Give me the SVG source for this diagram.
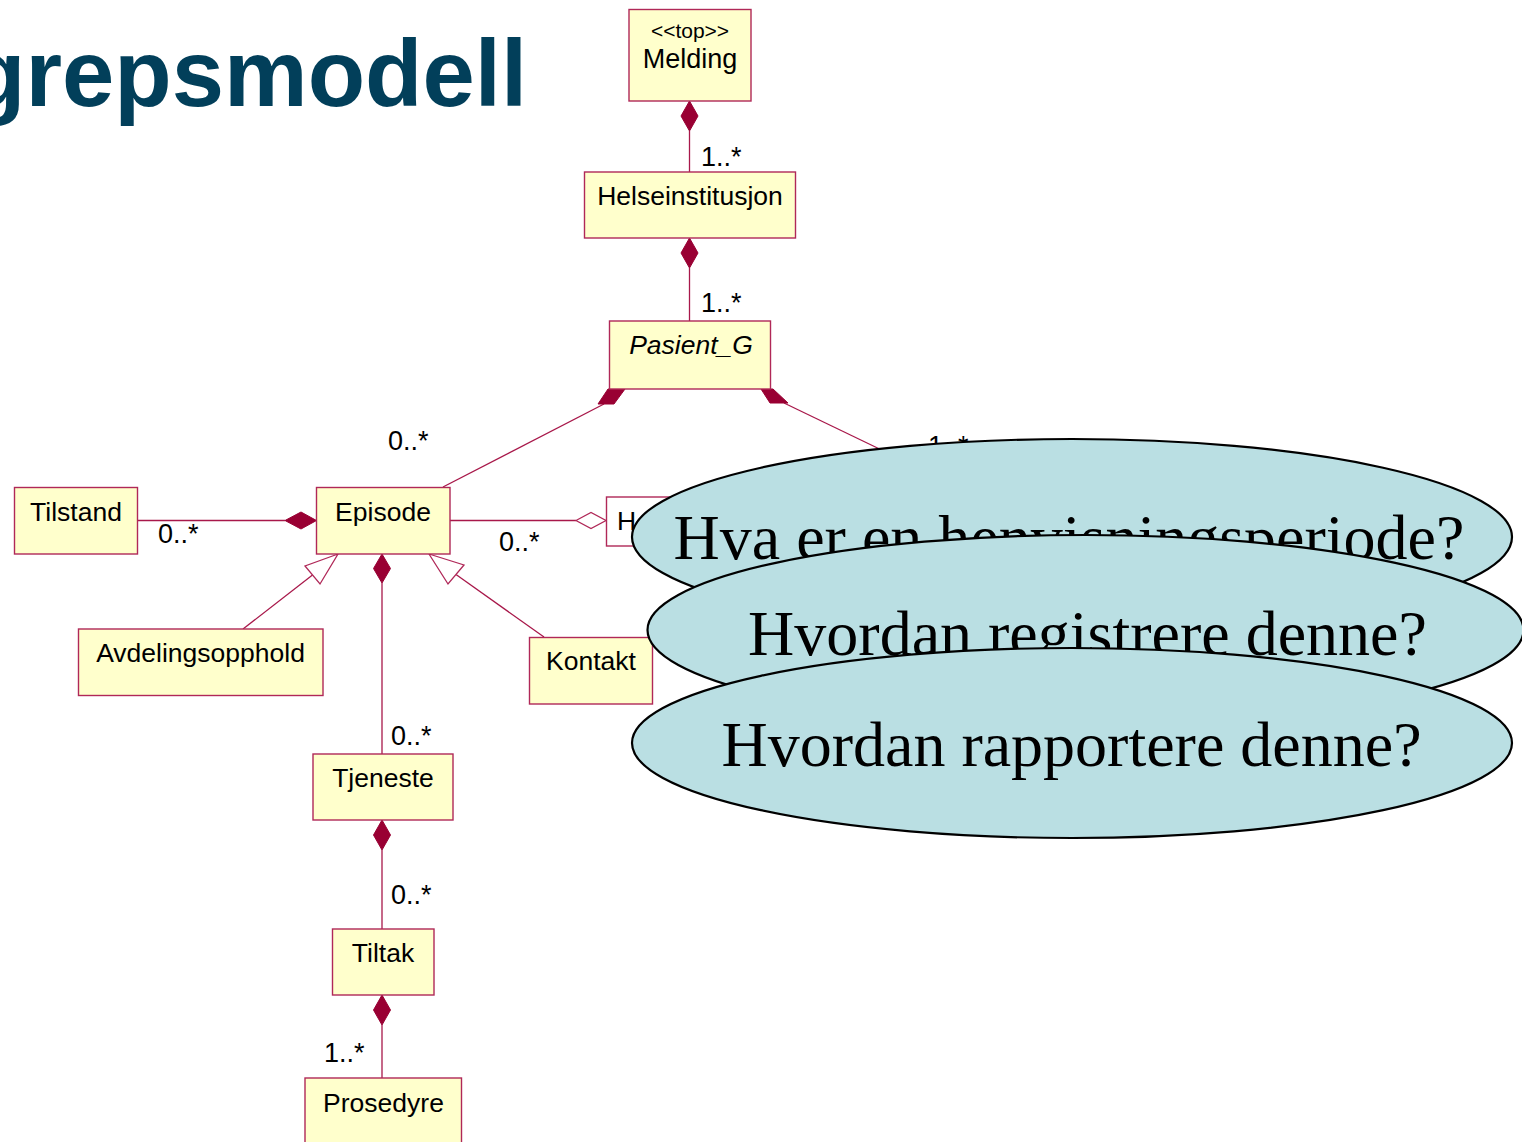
<svg xmlns="http://www.w3.org/2000/svg" width="1522" height="1142" viewBox="0 0 1522 1142">
<style>
.box{fill:#ffffcc;stroke:#b02858;stroke-width:1.4}
.wbox{fill:#ffffff;stroke:#b02858;stroke-width:1.4}
.t{font-family:"Liberation Sans",Arial,sans-serif;font-size:26.5px;fill:#000;text-anchor:middle}
.lbl{font-family:"Liberation Sans",Arial,sans-serif;font-size:27px;fill:#000}
.ln{stroke:#a8184a;stroke-width:1.3;fill:none}
.dia{fill:#990033;stroke:#990033;stroke-width:1}
.odia{fill:#ffffff;stroke:#b02858;stroke-width:1.3}
.tri{fill:#ffffff;stroke:#b02858;stroke-width:1.3}
.ell{fill:#badfe3;stroke:#000;stroke-width:2.2}
.q{font-family:"Liberation Serif","Times New Roman",serif;font-size:64px;fill:#000;text-anchor:middle}
</style>
<rect width="1522" height="1142" fill="#ffffff"/>
<text x="527" y="106" font-family="Liberation Sans, Arial, sans-serif" font-weight="bold" font-size="94" fill="#023f5a" text-anchor="end">grepsmodell</text>

<g id="connectors">
<line class="ln" x1="689.5" y1="131" x2="689.5" y2="172"/>
<polygon class="dia" points="689.5,101 698,116 689.5,131 681,116"/>
<line class="ln" x1="689.5" y1="268" x2="689.5" y2="321"/>
<polygon class="dia" points="689.5,238 698,253 689.5,268 681,253"/>
<line class="ln" x1="604" y1="404" x2="443" y2="487"/>
<polygon class="dia" points="608,389 625,389 614,404 598,404"/>
<line class="ln" x1="784" y1="403" x2="1000" y2="507"/>
<polygon class="dia" points="761,389 773,389 788,403 770,403"/>
<line class="ln" x1="137" y1="520.5" x2="285" y2="520.5"/>
<polygon class="dia" points="316.5,520.5 301,512 285,520.5 301,529"/>
<line class="ln" x1="450" y1="520.5" x2="576" y2="520.5"/>
<polygon class="odia" points="576,520.5 591,512.5 606,520.5 591,528.5"/>
<line class="ln" x1="606" y1="520.5" x2="640" y2="520.5"/>
<line class="ln" x1="312.5" y1="575" x2="243" y2="629"/>
<polygon class="tri" points="338,554 305,566 320,584"/>
<line class="ln" x1="456" y1="574.5" x2="544" y2="637"/>
<polygon class="tri" points="429,554 464,565 448,584"/>
<line class="ln" x1="382" y1="583" x2="382" y2="754"/>
<polygon class="dia" points="382,554 390.5,568.5 382,583 373.5,568.5"/>
<line class="ln" x1="382" y1="850" x2="382" y2="929"/>
<polygon class="dia" points="382,820 390.5,835 382,850 373.5,835"/>
<line class="ln" x1="382" y1="1025" x2="382" y2="1078"/>
<polygon class="dia" points="382,995 390.5,1010 382,1025 373.5,1010"/>
<text class="lbl" x="701" y="166">1..*</text>
<text class="lbl" x="701" y="312">1..*</text>
<text class="lbl" x="388" y="450">0..*</text>
<text class="lbl" x="928" y="455">1..*</text>
<text class="lbl" x="158" y="543">0..*</text>
<text class="lbl" x="499" y="551">0..*</text>
<text class="lbl" x="391" y="745">0..*</text>
<text class="lbl" x="391" y="904">0..*</text>
<text class="lbl" x="324" y="1062">1..*</text>
</g>

<g id="Melding"><rect class="box" x="629" y="9.5" width="122" height="91.5"/>
<text class="t" x="690" y="37.5" style="font-size:21px">&lt;&lt;top&gt;&gt;</text>
<text class="t" x="690" y="68" style="font-size:27px">Melding</text></g>
<g id="Helseinstitusjon"><rect class="box" x="584.5" y="172" width="211" height="66"/>
<text class="t" x="690" y="205">Helseinstitusjon</text></g>
<g id="Pasient_G"><rect class="box" x="609.5" y="321" width="161" height="68"/>
<text class="t" x="691" y="354" font-style="italic">Pasient_G</text></g>
<g id="Tilstand"><rect class="box" x="14.5" y="487.5" width="123" height="66.5"/>
<text class="t" x="76" y="521">Tilstand</text></g>
<g id="Episode"><rect class="box" x="316.5" y="487.5" width="133.5" height="66.5"/>
<text class="t" x="383" y="521">Episode</text></g>
<g id="Henvisningsperiode"><rect class="wbox" x="606.5" y="497" width="200" height="49"/>
<text class="t" x="617" y="530" style="text-anchor:start">H</text></g>
<g id="Avdelingsopphold"><rect class="box" x="78.5" y="629" width="244.5" height="66.5"/>
<text class="t" x="200.5" y="662">Avdelingsopphold</text></g>
<g id="Kontakt"><rect class="box" x="529.5" y="637.5" width="123" height="66.5"/>
<text class="t" x="591" y="670">Kontakt</text></g>
<g id="Tjeneste"><rect class="box" x="313" y="754" width="140" height="66"/>
<text class="t" x="383" y="787">Tjeneste</text></g>
<g id="Tiltak"><rect class="box" x="332.5" y="929" width="101.5" height="66"/>
<text class="t" x="383" y="962">Tiltak</text></g>
<g id="Prosedyre"><rect class="box" x="305" y="1078" width="156.5" height="80"/>
<text class="t" x="383.5" y="1112">Prosedyre</text></g>

<g id="question1"><ellipse class="ell" cx="1072" cy="537" rx="440" ry="98"/>
<text class="q" x="1069" y="559">Hva er en henvisningsperiode?</text></g>
<g id="question2"><ellipse class="ell" cx="1085.5" cy="630" rx="438" ry="95"/>
<text class="q" x="1087.5" y="655">Hvordan registrere denne?</text></g>
<g id="question3"><ellipse class="ell" cx="1072" cy="743" rx="440" ry="95"/>
<text class="q" x="1071.5" y="766">Hvordan rapportere denne?</text></g>
</svg>
